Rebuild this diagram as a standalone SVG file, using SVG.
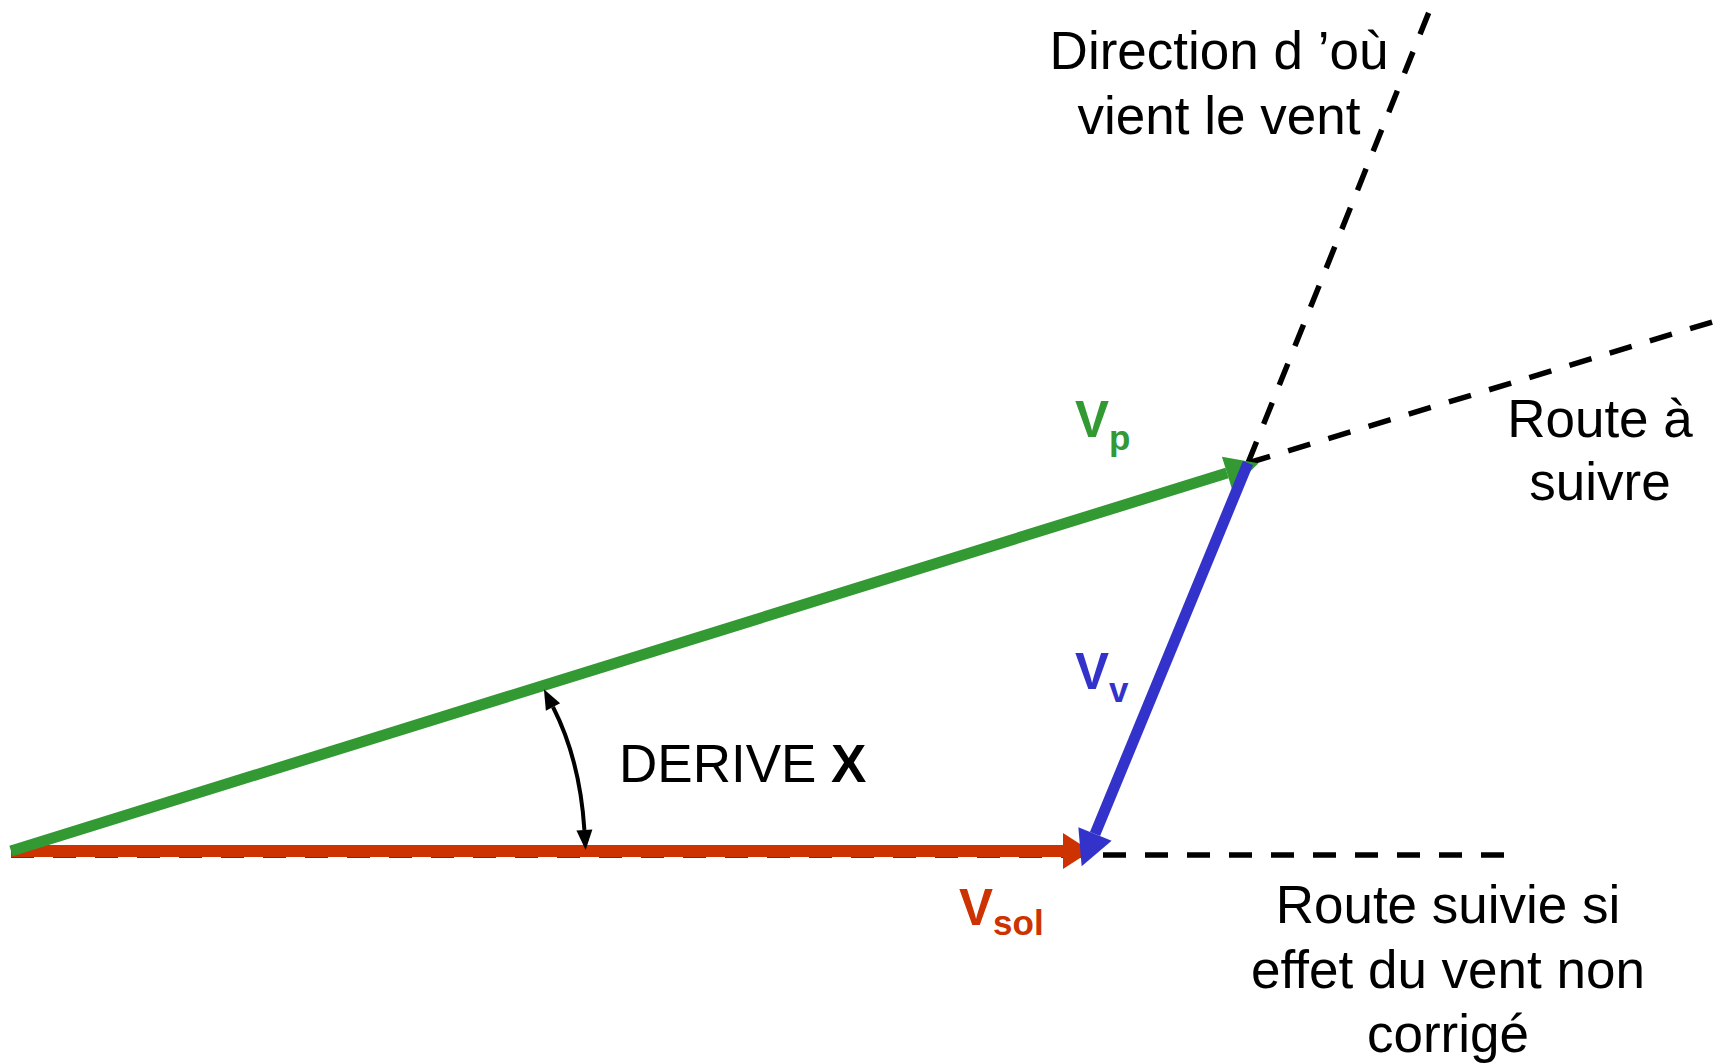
<svg xmlns="http://www.w3.org/2000/svg" width="1731" height="1063" viewBox="0 0 1731 1063">
<style>
.txt{font-family:"Liberation Sans",Arial,sans-serif;font-size:53px;fill:#000}
.lbl{font-family:"Liberation Sans",Arial,sans-serif;font-weight:bold;font-size:51px}
.sub{font-size:35px}
.dash{stroke:#000;stroke-width:5.5;stroke-dasharray:23 19;fill:none}
.green{fill:#339933}
.blue{fill:#3333CC}
.red{fill:#CC3300}
</style>
<defs>
<marker id="mGreen" markerUnits="userSpaceOnUse" markerWidth="40" markerHeight="40" viewBox="0 -20 40 40" refX="0" refY="0" orient="auto" overflow="visible"><path d="M0,-17 L33,0 L0,17 z" fill="#339933"/></marker>
<marker id="mBlue" markerUnits="userSpaceOnUse" markerWidth="40" markerHeight="40" viewBox="0 -20 40 40" refX="0" refY="0" orient="auto" overflow="visible"><path d="M0,-18 L35,0 L0,18 z" fill="#3333CC"/></marker>
<marker id="mRed" markerUnits="userSpaceOnUse" markerWidth="40" markerHeight="40" viewBox="0 -20 40 40" refX="0" refY="0" orient="auto" overflow="visible"><path d="M0,-18 L28,0 L0,18 z" fill="#CC3300"/></marker>
<marker id="mBlack" markerUnits="userSpaceOnUse" markerWidth="24" markerHeight="24" viewBox="0 -12 24 24" refX="0" refY="0" orient="auto-start-reverse" overflow="visible"><path d="M0,-8 L20,0 L0,8 z" fill="#000"/></marker>
</defs>
<rect width="1731" height="1063" fill="#fff"/>
<g id="connectors">
<line id="dash-ground" class="dash" x1="11" y1="855" x2="1507" y2="855"/>
<line id="dash-route" class="dash" x1="1248" y1="463" x2="1722" y2="319"/>
<line id="dash-wind" class="dash" x1="1248" y1="463" x2="1433" y2="2"/>
<line id="v-sol" x1="11" y1="851" x2="1063" y2="851" stroke="#CC3300" stroke-width="12" marker-end="url(#mRed)"/>
<line id="v-p" x1="11" y1="851" x2="1227" y2="473" stroke="#339933" stroke-width="11" marker-end="url(#mGreen)"/>
<line id="v-v" x1="1248" y1="463" x2="1095" y2="834" stroke="#3333CC" stroke-width="11" marker-end="url(#mBlue)"/>
<path id="derive-arc" d="M553,707 Q580,760 584.4,830" stroke="#000" stroke-width="4" fill="none" marker-start="url(#mBlack)" marker-end="url(#mBlack)"/>
</g>
<g id="label-wind-direction">
<text class="txt" text-anchor="middle" x="1219" y="69">Direction d ’où</text>
<text class="txt" text-anchor="middle" x="1219" y="134">vient le vent</text>
</g>
<g id="label-route">
<text class="txt" text-anchor="middle" x="1600" y="437">Route à</text>
<text class="txt" text-anchor="middle" x="1600" y="500">suivre</text>
</g>
<g id="label-route-uncorrected">
<text class="txt" text-anchor="middle" x="1448" y="923">Route suivie si</text>
<text class="txt" text-anchor="middle" x="1448" y="988">effet du vent non</text>
<text class="txt" text-anchor="middle" x="1448" y="1052">corrigé</text>
</g>
<g id="label-derive">
<text class="txt" x="619" y="782">DERIVE <tspan font-weight="bold">X</tspan></text>
</g>
<g id="label-vp">
<text class="lbl green" x="1075" y="437">V<tspan class="sub" dy="13">p</tspan></text>
</g>
<g id="label-vv">
<text class="lbl blue" x="1075" y="689">V<tspan class="sub" dy="13">v</tspan></text>
</g>
<g id="label-vsol">
<text class="lbl red" x="959" y="925">V<tspan class="sub" dy="10">sol</tspan></text>
</g>
</svg>
